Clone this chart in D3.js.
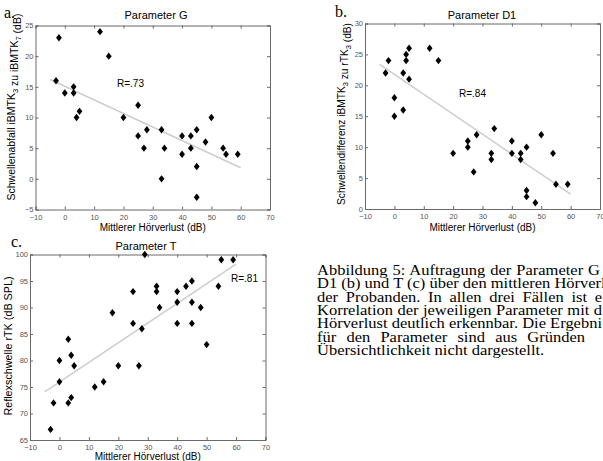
<!DOCTYPE html>
<html><head><meta charset="utf-8">
<script src="https://cdn.jsdelivr.net/npm/d3@7"></script>
<style>
html,body{margin:0;padding:0;background:#fff;overflow:hidden}
svg{display:block}
</style></head>
<body>
<svg id="c" width="603" height="461"></svg>
<script>
// ---------- data ----------
const xTickValues = [-10, 0, 10, 20, 30, 40, 50, 60, 70];
const gTicks = [-5, 0, 5, 10, 15, 20, 25];
const dTicks = [0, 5, 10, 15, 20, 25, 30];
const tTicks = [65, 70, 75, 80, 85, 90, 95, 100];

const gHL = [-3, -2, 0, 3, 3, 4, 5, 12, 15, 20, 25, 25, 27, 28, 33, 33, 34, 40, 40, 43, 43, 45, 45, 45, 48, 50, 54, 55, 59];
const gVal = [16, 23, 14, 15, 14, 10, 11, 24, 20, 10, 12, 7, 5, 8, 8, 0, 5, 7, 4, 7, 5, 8, 2, -3, 6, 10, 5, 4, 4];
const gFit = [[-5, 16.2], [60, 1.8]];

const dHL = [-3, -2, 0, 0, 3, 3, 4, 4, 5, 5, 12, 15, 20, 25, 25, 27, 28, 33, 33, 34, 40, 40, 43, 43, 45, 45, 45, 48, 50, 54, 55, 59];
const dVal = [22, 24, 18, 15, 22, 16, 25, 24, 26, 21, 26, 24, 9, 11, 10, 6, 12, 9, 8, 13, 11, 9, 9, 8, 10, 3, 2, 1, 12, 9, 4, 4];
const dFit = [[-5, 23.4], [60, 2.4]];

const tHL = [-3, -2, 0, 0, 3, 3, 4, 4, 5, 12, 15, 18, 20, 25, 25, 27, 28, 29, 33, 33, 34, 40, 40, 40, 43, 45, 45, 45, 48, 50, 54, 55, 59];
const tVal = [67, 72, 80, 76, 84, 72, 81, 73, 79, 75, 76, 89, 79, 93, 87, 79, 86, 100, 94, 93, 90, 93, 91, 87, 94, 95, 91, 87, 90, 83, 94, 99, 99];
const tFit = [[-5, 74.1], [60, 98.2]];

const xLabel = "Mittlerer Hörverlust (dB)";
const captionLines = [
  "Abbildung 5: Auftragung der Parameter G",
  "D1 (b) und T (c) über den mittleren Hörverl",
  "der Probanden. In allen drei Fällen ist e",
  "Korrelation der jeweiligen Parameter mit d",
  "Hörverlust deutlich erkennbar. Die Ergebni",
  "für den Parameter sind aus Gründen",
  "Übersichtlichkeit nicht dargestellt."
];

// ---------- drawing ----------
const svg = d3.select("#c");
const SANS = "Arial, 'Liberation Sans', sans-serif";
const SERIF = "'Times New Roman', 'Liberation Serif', serif";
const AX = "#6a6a6a";

function panel(cfg) {
  const x = d3.scaleLinear().domain([-10, 70]).range([cfg.left, cfg.right]);
  const y = d3.scaleLinear().domain(cfg.yDomain).range([cfg.bottom, cfg.top]);
  const g = svg.append("g");

  g.append("path")
    .attr("d", d3.line().x(d => x(d[0])).y(d => y(d[1]))(cfg.fit))
    .attr("stroke", "#cdcdcd").attr("stroke-width", 1.5).attr("fill", "none");

  const tl = 3;
  const bAx = g.append("g").attr("transform", `translate(0,${cfg.bottom})`)
    .call(d3.axisBottom(x).tickValues(xTickValues).tickSize(-tl).tickPadding(5).tickFormat(d3.format("d")));
  const tAx = g.append("g").attr("transform", `translate(0,${cfg.top})`)
    .call(d3.axisTop(x).tickValues(xTickValues).tickSize(-tl).tickFormat(""));
  const lAx = g.append("g").attr("transform", `translate(${cfg.left},0)`)
    .call(d3.axisLeft(y).tickValues(cfg.yTicks).tickSize(-tl).tickPadding(2).tickFormat(d3.format("d")));
  const rAx = g.append("g").attr("transform", `translate(${cfg.right},0)`)
    .call(d3.axisRight(y).tickValues(cfg.yTicks).tickSize(-tl).tickFormat(""));
  [bAx, tAx, lAx, rAx].forEach(a => {
    a.select(".domain").attr("stroke", AX).attr("stroke-width", 1);
    a.selectAll(".tick line").attr("stroke", AX);
    a.selectAll(".tick text").attr("fill", "#555").attr("font-family", SANS).attr("font-size", 7.5);
  });
  lAx.selectAll(".tick text").attr("dy", "0.3em");

  const dia = "M0,-3.7L2.9,0L0,3.7L-2.9,0Z";
  g.selectAll("path.pt").data(cfg.xs.map((v, i) => [v, cfg.ys[i]])).enter()
    .append("path").attr("class", "pt")
    .attr("d", dia)
    .attr("transform", d => `translate(${x(d[0])},${y(d[1])})`)
    .attr("fill", "#000");

  g.append("text").attr("x", cfg.titleX).attr("y", cfg.titleY)
    .attr("text-anchor", "middle").attr("font-family", SANS).attr("font-size", 11)
    .text(cfg.title);
  g.append("text").attr("x", (cfg.left + cfg.right) / 2).attr("y", cfg.xLabY)
    .attr("text-anchor", "middle").attr("font-family", SANS).attr("font-size", 10)
    .text(xLabel);
  const yl = g.append("text")
    .attr("transform", `translate(${cfg.yLabX},${cfg.yLabY}) rotate(-90)`)
    .attr("text-anchor", "middle").attr("font-family", SANS).attr("font-size", cfg.yLabFS);
  cfg.yLabel.forEach(p => {
    if (p.sub) {
      yl.append("tspan").attr("dy", 3).attr("font-size", 7.5).text(p.sub);
      yl.append("tspan").attr("dy", -3).text("");
    } else {
      yl.append("tspan").text(p.t);
    }
  });
  g.append("text").attr("x", cfg.rX).attr("y", cfg.rY)
    .attr("font-family", SANS).attr("font-size", 10).text(cfg.r);
  g.append("text").attr("x", cfg.letX).attr("y", cfg.letY)
    .attr("font-family", SERIF).attr("font-size", 16).text(cfg.letter);
}

panel({
  left: 35.5, right: 270, top: 25.5, bottom: 209.5, yDomain: [-5, 25], yTicks: gTicks,
  xs: gHL, ys: gVal, fit: gFit, title: "Parameter G", titleX: 156, titleY: 19,
  xLabY: 231, yLabX: 15, yLabY: 107, yLabFS: 10.5,
  yLabel: [{t: "Schwellenabfall iBMTK"}, {sub: "3"}, {t: " zu iBMTK"}, {sub: "7"}, {t: " (dB)"}],
  r: "R=.73", rX: 117, rY: 87, letter: "a.", letX: 4, letY: 18
});
panel({
  left: 365, right: 600, top: 23.5, bottom: 209, yDomain: [0, 30], yTicks: dTicks,
  xs: dHL, ys: dVal, fit: dFit, title: "Parameter D1", titleX: 482, titleY: 19,
  xLabY: 231, yLabX: 345, yLabY: 114, yLabFS: 10.2,
  yLabel: [{t: "Schwellendifferenz iBMTK"}, {sub: "3"}, {t: " zu rTK"}, {sub: "3"}, {t: " (dB)"}],
  r: "R=.84", rX: 459, rY: 97, letter: "b.", letX: 335, letY: 16.5
});
panel({
  left: 30, right: 265.5, top: 254.5, bottom: 440, yDomain: [65, 100], yTicks: tTicks,
  xs: tHL, ys: tVal, fit: tFit, title: "Parameter T", titleX: 146, titleY: 249.5,
  xLabY: 460, yLabX: 11.5, yLabY: 346, yLabFS: 10.8,
  yLabel: [{t: "Reflexschwelle rTK (dB SPL)"}],
  r: "R=.81", rX: 231, rY: 282, letter: "c.", letX: 11, letY: 246.5
});

// caption (slightly widened glyphs, justified lines)
const capX = 317, capY0 = 275, capLH = 13.3, capFS = 14.5;
const capTargets = [283, 285, 285, 285, 285, 268, null];
const cap = svg.append("g");
const probe = cap.append("text").attr("font-family", SERIF).attr("font-size", capFS)
  .text(captionLines[0]);
const sx = 279 / probe.node().getComputedTextLength();
probe.remove();
captionLines.forEach((s, i) => {
  const t = cap.append("text")
    .attr("transform", `translate(${capX},${capY0 + i * capLH}) scale(${sx},1)`)
    .attr("font-family", SERIF).attr("font-size", capFS).attr("fill", "#000")
    .text(s);
  if (capTargets[i]) {
    const w = t.node().getComputedTextLength();
    const n = (s.match(/ /g) || []).length;
    if (n > 0) t.attr("word-spacing", Math.max(0, (capTargets[i] / sx - w) / n));
  }
});
</script>
</body></html>
